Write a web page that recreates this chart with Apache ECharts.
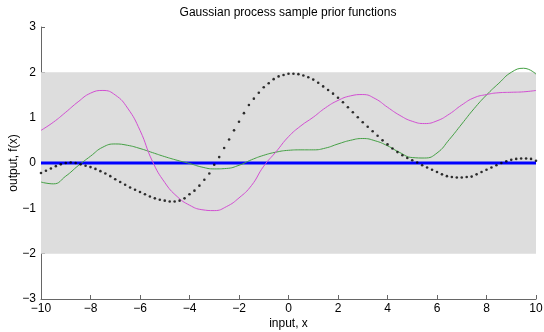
<!DOCTYPE html>
<html>
<head>
<meta charset="utf-8">
<script src="https://cdn.jsdelivr.net/npm/echarts@6/dist/echarts.min.js"></script>
<style>
  html, body { margin: 0; padding: 0; background: #fff; }
  #chart { width: 544px; height: 332px; }
</style>
</head>
<body>
<div id="chart"></div>
<script>
// samples, x step 0.5 for the two smooth curves
const xSmooth = [-10, -9.5, -9, -8.5, -8, -7.5, -7, -6.5, -6, -5.5, -5, -4.5, -4, -3.5, -3, -2.5, -2, -1.5, -1, -0.5,
  0, 0.5, 1, 1.5, 2, 2.5, 3, 3.5, 4, 4.5, 5, 5.5, 6, 6.5, 7, 7.5, 8, 8.5, 9, 9.5, 10];
const magentaY = [0.72, 0.90, 1.12, 1.35, 1.54, 1.60, 1.50, 1.21, 0.72, 0.04, -0.43, -0.74, -0.93, -1.03, -1.05, -0.96, -0.77, -0.50, -0.07, 0.25,
  0.58, 0.82, 1.01, 1.22, 1.38, 1.48, 1.51, 1.42, 1.23, 1.05, 0.92, 0.87, 0.93, 1.08, 1.28, 1.44, 1.51, 1.55, 1.56, 1.57, 1.60];
const greenY = [-0.42, -0.46, -0.29, -0.06, 0.15, 0.35, 0.42, 0.39, 0.32, 0.23, 0.14, 0.06, -0.01, -0.09, -0.13, -0.12, -0.05, 0.07, 0.17, 0.24,
  0.28, 0.29, 0.29, 0.33, 0.42, 0.50, 0.54, 0.49, 0.38, 0.23, 0.12, 0.11, 0.22, 0.52, 0.86, 1.20, 1.50, 1.76, 2.00, 2.09, 1.96];

// dotted sample: one dot every 0.2 along x, starting at -10
const blackY = [-0.22, -0.17, -0.12, -0.07, -0.03, 0.00, 0.01, 0.00, -0.03, -0.06,
  -0.09, -0.13, -0.18, -0.23, -0.29, -0.36, -0.42, -0.48, -0.54, -0.59,
  -0.64, -0.69, -0.74, -0.78, -0.81, -0.83, -0.85, -0.85, -0.83, -0.78,
  -0.69, -0.61, -0.50, -0.37, -0.23, -0.04, 0.13, 0.33, 0.52, 0.72,
  0.91, 1.10, 1.28, 1.42, 1.55, 1.67, 1.76, 1.85, 1.91, 1.94,
  1.97, 1.97, 1.96, 1.93, 1.89, 1.84, 1.77, 1.69, 1.61, 1.53,
  1.44, 1.34, 1.23, 1.12, 1.01, 0.90, 0.80, 0.70, 0.60, 0.50,
  0.41, 0.32, 0.24, 0.17, 0.11, 0.06, 0.01, -0.05, -0.10, -0.15,
  -0.20, -0.25, -0.29, -0.31, -0.32, -0.32, -0.31, -0.30, -0.25, -0.20,
  -0.15, -0.10, -0.05, 0.00, 0.04, 0.07, 0.09, 0.10, 0.10, 0.09, 0.05];
const blackStart = -10;
const blackStep = 0.2;

const meanY = [0, 0];
const meanX = [-10, 10];
const band = [-2, 2];

const FONT = 'Liberation Sans';
const minus = v => String(v).replace('-', '\u2212');

const chart = echarts.init(document.getElementById('chart'), null, { renderer: 'canvas' });

const pairs = (xs, ys) => xs.map((x, i) => [x, ys[i]]);

chart.setOption({
  animation: false,
  backgroundColor: '#fff',
  title: {
    text: 'Gaussian process sample prior functions',
    left: 288, top: 7, textAlign: 'center', padding: 0,
    textStyle: { fontFamily: FONT, fontSize: 12, fontWeight: 'normal', color: '#000' }
  },
  grid: { left: 41, right: 8, top: 27, bottom: 33, containLabel: false, outerBoundsMode: 'none' },
  xAxis: {
    type: 'value', min: -10, max: 10, interval: 2,
    name: 'input, x', nameLocation: 'middle', nameGap: 19, nameMoveOverlap: false,
    nameTextStyle: { fontFamily: FONT, fontSize: 12, color: '#000' },
    axisLine: { show: true, onZero: false, lineStyle: { color: '#666', width: 1 } },
    axisTick: { show: true, inside: true, length: 4, lineStyle: { color: '#666' } },
    axisLabel: { fontFamily: FONT, fontSize: 12, color: '#000', margin: 4, formatter: minus },
    splitLine: { show: false }
  },
  yAxis: {
    type: 'value', min: -3, max: 3, interval: 1,
    name: 'output, f(x)', nameLocation: 'middle', nameGap: 21, nameRotate: 90, nameMoveOverlap: false,
    nameTextStyle: { fontFamily: FONT, fontSize: 12, color: '#000' },
    axisLine: { show: true, onZero: false, lineStyle: { color: '#666', width: 1 } },
    axisTick: { show: true, inside: true, length: 4, lineStyle: { color: '#666' } },
    axisLabel: { fontFamily: FONT, fontSize: 12, color: '#000', margin: 5, formatter: minus },
    splitLine: { show: false }
  },
  series: [
    {
      type: 'line',
      data: pairs(meanX, meanY),
      showSymbol: false,
      lineStyle: { color: '#0000ff', width: 3 },
      z: 3,
      markArea: {
        silent: true,
        itemStyle: { color: '#dddddd' },
        data: [[{ xAxis: meanX[0], yAxis: band[0] }, { xAxis: meanX[1], yAxis: band[1] }]]
      }
    },
    {
      type: 'line',
      data: pairs(xSmooth, greenY),
      smooth: 0.5,
      showSymbol: false,
      lineStyle: { color: '#44a044', width: 1 },
      z: 4
    },
    {
      type: 'line',
      data: pairs(xSmooth, magentaY),
      smooth: 0.5,
      showSymbol: false,
      lineStyle: { color: '#d24fd2', width: 1 },
      z: 4
    },
    {
      type: 'scatter',
      data: blackY.map((y, i) => [blackStart + i * blackStep, y]),
      symbol: 'circle',
      symbolSize: 2.6,
      itemStyle: { color: '#000' },
      z: 5
    }
  ]
});
</script>
</body>
</html>
